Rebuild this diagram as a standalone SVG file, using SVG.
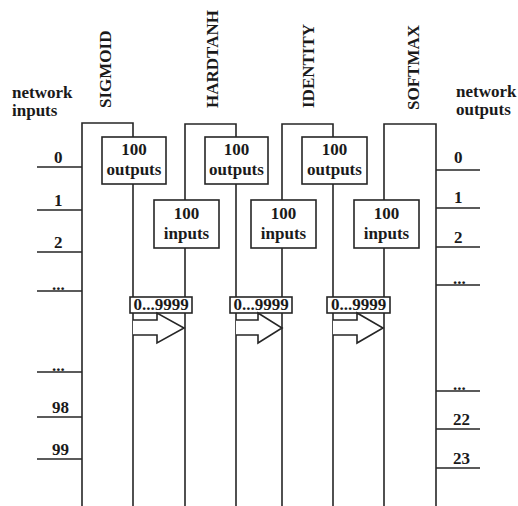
<svg xmlns="http://www.w3.org/2000/svg" width="518" height="506" viewBox="0 0 518 506">
<style>
text{font-family:"Liberation Serif","Times New Roman",serif;font-weight:bold;font-size:17px;fill:#1a1a1a}
.c{text-anchor:middle}
.ln{stroke:#262626;stroke-width:1.6;fill:none}
.bx{stroke:#262626;stroke-width:1.6;fill:#fff}
.lab{text-anchor:start}
</style>
<rect width="518" height="506" fill="#fff"/>
<g id="layers">
<g id="sigmoid">
<path class="ln" d="M82,506V123H133V137M133,184V506"/>
<text class="lab" transform="translate(111,108) rotate(-90)">SIGMOID</text>
</g>
<g id="hardtanh">
<path class="ln" d="M185,506V124H236V137M236,184V506"/>
<text class="lab" transform="translate(218,108) rotate(-90)">HARDTANH</text>
</g>
<g id="identity">
<path class="ln" d="M282,506V124H333V137M333,184V506"/>
<text class="lab" transform="translate(314,108) rotate(-90)">IDENTITY</text>
</g>
<g id="softmax">
<path class="ln" d="M384,506V124H436V506"/>
<text class="lab" transform="translate(419,110) rotate(-90)">SOFTMAX</text>
</g>
</g>
<g id="out-boxes">
<g id="out1"><rect class="bx" x="102" y="137" width="64" height="47"/><text class="c" x="134" y="155">100</text><text class="c" x="134" y="175">outputs</text></g>
<g id="out2"><rect class="bx" x="205" y="137" width="63" height="47"/><text class="c" x="236.5" y="155">100</text><text class="c" x="236.5" y="175">outputs</text></g>
<g id="out3"><rect class="bx" x="302" y="137" width="65" height="47"/><text class="c" x="334.5" y="155">100</text><text class="c" x="334.5" y="175">outputs</text></g>
</g>
<g id="in-boxes">
<g id="in2"><rect class="bx" x="154" y="200" width="65" height="48"/><text class="c" x="186.5" y="219">100</text><text class="c" x="186.5" y="239">inputs</text></g>
<g id="in3"><rect class="bx" x="251" y="200" width="65" height="48"/><text class="c" x="283.5" y="219">100</text><text class="c" x="283.5" y="239">inputs</text></g>
<g id="in4"><rect class="bx" x="354" y="200" width="65" height="48"/><text class="c" x="386.5" y="219">100</text><text class="c" x="386.5" y="239">inputs</text></g>
</g>
<g id="connectors">
<g id="conn1"><rect class="bx" x="130" y="297" width="62" height="16"/><text class="c" x="161" y="310">0...9999</text>
<polyline class="bx" points="133,320 157,320 157,313 184,328 157,343 157,335 133,335"/></g>
<g id="conn2"><rect class="bx" x="230" y="297" width="62" height="16"/><text class="c" x="261" y="310">0...9999</text>
<polyline class="bx" points="236,320 258,320 258,313 282,328 258,343 258,335 236,335"/></g>
<g id="conn3"><rect class="bx" x="327" y="297" width="63" height="16"/><text class="c" x="358.5" y="310">0...9999</text>
<polyline class="bx" points="333,320 357,320 357,313 383,328 357,343 357,335 333,335"/></g>
</g>
<g id="inputs">
<text x="12" y="98">network</text><text x="12" y="116">inputs</text>
<path class="ln" d="M37,167H82M37,210H82M37,252H82M37,291H82M37,372H82M37,417H82M37,459H82"/>
<text x="54" y="163">0</text>
<text x="54" y="206">1</text>
<text x="54" y="248">2</text>
<text x="52" y="290">...</text>
<text x="52" y="371">...</text>
<text x="52" y="413">98</text>
<text x="52" y="455">99</text>
</g>
<g id="outputs">
<text x="456" y="97">network</text><text x="456" y="115">outputs</text>
<path class="ln" d="M436,170H480M436,208H480M436,247H480M436,285H480M436,391H480M436,429H480M436,468H480"/>
<text x="454" y="163">0</text>
<text x="454" y="203">1</text>
<text x="454" y="243">2</text>
<text x="453" y="284">...</text>
<text x="453" y="390">...</text>
<text x="453" y="425">22</text>
<text x="453" y="464">23</text>
</g>
</svg>
